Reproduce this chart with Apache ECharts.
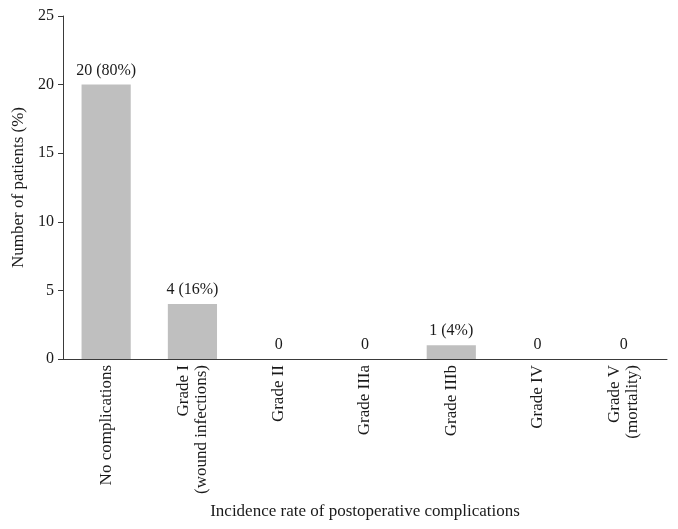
<!DOCTYPE html>
<html>
<head>
<meta charset="utf-8">
<script src="https://cdn.jsdelivr.net/npm/echarts@6/dist/echarts.min.js"></script>
<style>
  html, body { margin: 0; padding: 0; background: #fff; }
  #chart { width: 678px; height: 529px; }
</style>
</head>
<body>
<div id="chart"></div>
<script>
// categories on the x axis
var categories = [
    'No complications',
    'Grade I\n(wound infections)',
    'Grade II',
    'Grade IIIa',
    'Grade IIIb',
    'Grade IV',
    'Grade V\n(mortality)'
];
// number of patients per category
var patients = [20, 4, 0, 0, 1, 0, 0];
// text written above each bar
var barLabels = ['20 (80%)', '4 (16%)', '0', '0', '1 (4%)', '0', '0'];
var yTicks = [0, 5, 10, 15, 20, 25];

var font = 'Liberation Serif';
var myChart = echarts.init(document.getElementById('chart'));
var option = {
    animation: false,
    grid: {
        left: 63,
        right: 11,
        top: 16,
        bottom: 170,
        containLabel: false
    },
    xAxis: {
        type: 'category',
        data: categories,
        name: 'Incidence rate of postoperative complications',
        nameLocation: 'middle',
        nameGap: 144,
        nameTextStyle: { fontFamily: font, fontSize: 17, color: '#1a1a1a' },
        axisLine: { lineStyle: { color: '#3a3a3a', width: 1 } },
        axisTick: { show: false },
        axisLabel: {
            interval: 0,
            rotate: 90,
            margin: 6,
            fontFamily: font,
            fontSize: 17,
            lineHeight: 18,
            color: '#1a1a1a'
        }
    },
    yAxis: {
        type: 'value',
        min: yTicks[0],
        max: yTicks[yTicks.length - 1],
        interval: 5,
        name: 'Number of patients (%)',
        nameLocation: 'middle',
        nameGap: 35,
        nameTextStyle: { fontFamily: font, fontSize: 17, color: '#1a1a1a' },
        axisLine: { show: true, lineStyle: { color: '#3a3a3a', width: 1 } },
        axisTick: { show: true, length: 5, lineStyle: { color: '#3a3a3a' } },
        axisLabel: { fontFamily: font, fontSize: 16, color: '#1a1a1a', margin: 9 },
        splitLine: { show: false }
    },
    series: [
        {
            type: 'bar',
            data: patients,
            barWidth: '57%',
            itemStyle: { color: '#bfbfbf' },
            label: {
                show: true,
                position: 'top',
                distance: 6,
                fontFamily: font,
                fontSize: 16,
                color: '#1a1a1a',
                formatter: function (p) { return barLabels[p.dataIndex]; }
            }
        }
    ]
};
myChart.setOption(option);
</script>
</body>
</html>
